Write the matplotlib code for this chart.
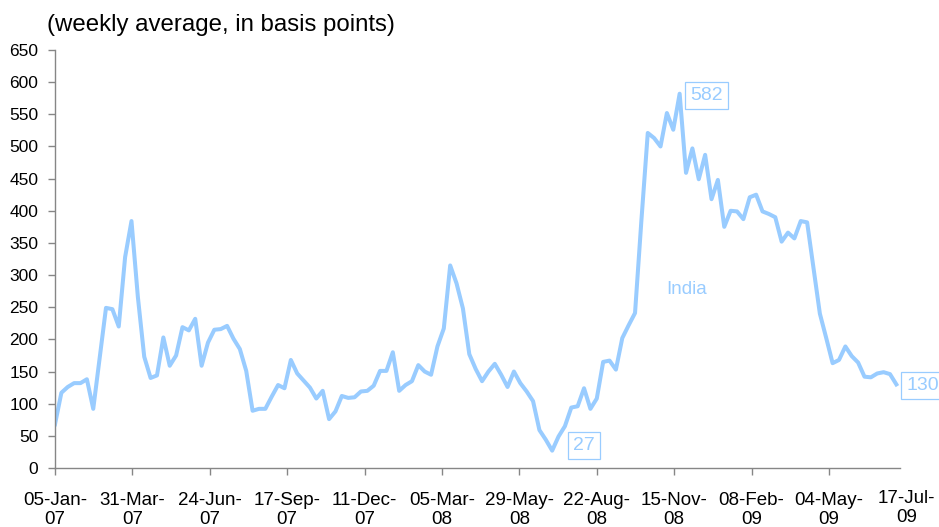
import matplotlib
matplotlib.use("Agg")
import matplotlib.pyplot as plt
import numpy as np
import pandas as pd

# weekly average spread, India (basis points), Fridays from 05-Jan-07 to 17-Jul-09
spread = [
    68, 117, 126, 132, 132, 138, 92, 170, 249, 247,
    220, 328, 384, 266, 173, 140, 144, 203, 159, 175,
    219, 214, 232, 159, 195, 215, 216, 221, 201, 185,
    151, 89, 92, 92, 111, 129, 124, 168, 147, 136,
    125, 108, 120, 76, 88, 112, 109, 110, 119, 120,
    128, 151, 151, 180, 120, 129, 135, 160, 150, 145,
    189, 217, 315, 287, 248, 177, 154, 135, 150, 162,
    145, 126, 150, 132, 119, 104, 59, 44, 27, 49,
    65, 94, 96, 124, 92, 108, 165, 167, 153, 202,
    222, 241, 385, 521, 513, 500, 552, 526, 582, 459,
    497, 449, 487, 418, 448, 375, 400, 399, 387, 421,
    425, 399, 395, 390, 352, 366, 357, 384, 382, 311,
    240, 202, 163, 168, 189, 174, 164, 142, 141, 147,
    149, 146, 130,
]
dates = pd.date_range("2007-01-05", periods=len(spread), freq="7D")

# axis ticks every 85 days, as in the original
tick_dates = pd.date_range("2007-01-05", periods=11, freq="85D")
tick_labels = [d.strftime("%d-%b-\n%y") for d in tick_dates]
end_label = "17-Jul-\n09"

series_name = "India"
title = "(weekly average, in basis points)"

line_color = "#99CCFF"
axis_color = "#868686"

plt.rcParams["font.family"] = ["Liberation Sans", "DejaVu Sans"]

fig = plt.figure(figsize=(9.39, 5.27), dpi=100)
ax = fig.add_axes([55 / 939, 59 / 527, 845 / 939, 418 / 527])

ax.plot(dates, spread, color=line_color, linewidth=2.9, solid_joinstyle="round")

ax.set_ylim(0, 650)
ax.set_yticks(np.arange(0, 651, 50))
ax.set_xlim(dates[0], dates[0] + pd.Timedelta(days=928))
ax.set_xticks(tick_dates)
ax.set_xticklabels(tick_labels, linespacing=1.15)

for s in ["top", "right"]:
    ax.spines[s].set_visible(False)
for s in ["left", "bottom"]:
    ax.spines[s].set_color(axis_color)
    ax.spines[s].set_linewidth(1.0)

ax.tick_params(axis="y", direction="out", length=5, width=1.0, color=axis_color,
               labelsize=12.5, pad=7)
ax.tick_params(axis="x", direction="out", length=5, width=1.0, color=axis_color,
               labelsize=13.5, pad=12)

# last date label, a bit higher than the others
ax.annotate(end_label, xy=(dates[-1], 0), xycoords=("data", "axes fraction"),
            xytext=(10, -22), textcoords="offset pixels", ha="center", va="top",
            fontsize=13.5, linespacing=1.15, annotation_clip=False)

# value boxes: max, min and last
box = dict(boxstyle="square,pad=0.25", fc="white", ec=line_color, lw=0.9)
i_max = int(np.argmax(spread))
i_min = int(np.argmin(spread))
i_last = len(spread) - 1
for i, off in [(i_max, (27, -2)), (i_min, (32, 5)), (i_last, (26, -1))]:
    ax.annotate(str(spread[i]), xy=(dates[i], spread[i]), xytext=off,
                textcoords="offset pixels", ha="center", va="center",
                fontsize=14, color=line_color, bbox=box, annotation_clip=False)

ax.text(0.748, 0.428, series_name, transform=ax.transAxes, ha="center", va="center",
        fontsize=13.5, color=line_color)

fig.text(47 / 939, 1 - 25 / 527, title, ha="left", va="center", fontsize=17.3)

fig.savefig("out.png", dpi=100)
